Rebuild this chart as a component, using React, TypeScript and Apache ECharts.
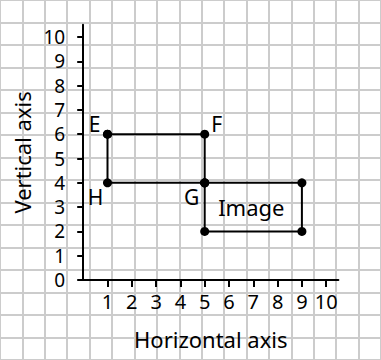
import React, { useEffect, useRef } from "react";
import * as echarts from "echarts";

const xTicks = [1, 2, 3, 4, 5, 6, 7, 8, 9, 10];
const yTicks = [0, 1, 2, 3, 4, 5, 6, 7, 8, 9, 10];
const objectShape = [[1, 6], [5, 6], [5, 4], [1, 4]];
const imageShape = [[5, 4], [9, 4], [9, 2], [5, 2]];
const vertexNames = ["E", "F", "G", "H"];
const imageText = "Image";
const imageTextPos = [7, 3];

const FONT = "Noto Sans";
const UNIT = 24.3;
const X0 = 83.2;
const Y0 = 280;

export default function App() {
  const ref = useRef<HTMLDivElement>(null);
  useEffect(() => {
    if (!ref.current) return;
    const chart = echarts.init(ref.current, undefined, { renderer: "svg" });
    const close = (pts: number[][]) => [...pts, pts[0]];
    const labelOffsets: Record<string, number[]> = {
      E: [-13, -10],
      F: [12, -10],
      G: [-13, 14],
      H: [-12, 14],
    };
    const axisMax = 10.5;
    chart.setOption({
      animation: false,
      backgroundColor: "#ffffff",
      textStyle: { fontFamily: FONT },
      grid: [
        {
          left: X0 - 4 * UNIT,
          top: Y0 - 12 * UNIT,
          width: 17 * UNIT,
          height: 16 * UNIT,
          containLabel: false,
        },
        {
          left: X0,
          top: Y0 - axisMax * UNIT,
          width: axisMax * UNIT,
          height: axisMax * UNIT,
          containLabel: false,
        },
      ],
      xAxis: [
        {
          gridIndex: 0,
          type: "value",
          min: -4,
          max: 13,
          interval: 1,
          axisLine: { show: false },
          axisTick: { show: false },
          axisLabel: { show: false },
          splitLine: { show: true, lineStyle: { color: "#cccccc", width: 2 } },
        },
        {
          gridIndex: 1,
          type: "value",
          min: 0,
          max: axisMax,
          position: "bottom",
          axisLine: { show: true, onZero: false, lineStyle: { color: "#000", width: 2 } },
          axisTick: {
            show: true,
            customValues: xTicks,
            length: 7,
            lineStyle: { color: "#000", width: 2 },
          },
          axisLabel: {
            show: true,
            customValues: xTicks,
            margin: 11,
            color: "#000",
            fontSize: 20,
            fontFamily: FONT,
          },
          splitLine: { show: false },
          name: "Horizontal axis",
          nameLocation: "middle",
          nameGap: 48,
          nameTextStyle: { color: "#000", fontSize: 22, fontFamily: FONT },
        },
      ],
      yAxis: [
        {
          gridIndex: 0,
          type: "value",
          min: -4,
          max: 12,
          interval: 1,
          axisLine: { show: false },
          axisTick: { show: false },
          axisLabel: { show: false },
          splitLine: { show: true, lineStyle: { color: "#cccccc", width: 2 } },
        },
        {
          gridIndex: 1,
          type: "value",
          min: 0,
          max: axisMax,
          position: "left",
          axisLine: { show: true, onZero: false, lineStyle: { color: "#000", width: 2 } },
          axisTick: {
            show: true,
            customValues: yTicks,
            length: 6,
            lineStyle: { color: "#000", width: 2 },
          },
          axisLabel: {
            show: true,
            customValues: yTicks,
            margin: 18,
            color: "#000",
            fontSize: 19,
            lineHeight: 19,
            fontFamily: FONT,
          },
          splitLine: { show: false },
          name: "Vertical axis",
          nameLocation: "middle",
          nameRotate: 90,
          nameGap: 44,
          nameTextStyle: { color: "#000", fontSize: 22, fontFamily: FONT },
        },
      ],
      series: [
        {
          type: "line",
          xAxisIndex: 1,
          yAxisIndex: 1,
          data: close(objectShape),
          symbol: "circle",
          symbolSize: 9,
          showAllSymbol: true,
          itemStyle: { color: "#000", opacity: 1 },
          lineStyle: { color: "#000", width: 2 },
          z: 5,
        },
        {
          type: "line",
          xAxisIndex: 1,
          yAxisIndex: 1,
          data: close(imageShape),
          symbol: "circle",
          symbolSize: 9,
          showAllSymbol: true,
          itemStyle: { color: "#000", opacity: 1 },
          lineStyle: { color: "#000", width: 2 },
          z: 5,
        },
        {
          type: "scatter",
          xAxisIndex: 1,
          yAxisIndex: 1,
          symbolSize: 0,
          itemStyle: { opacity: 1, color: "#000" },
          data: objectShape.map((p, i) => ({
            name: vertexNames[i],
            value: p,
            label: { offset: labelOffsets[vertexNames[i]] },
          })),
          label: {
            show: true,
            position: "inside",
            formatter: "{b}",
            color: "#000",
            opacity: 1,
            fontSize: 21,
            fontFamily: FONT,
          },
          z: 6,
        },
        {
          type: "scatter",
          xAxisIndex: 1,
          yAxisIndex: 1,
          symbolSize: 0,
          itemStyle: { opacity: 1, color: "#000" },
          data: [{ name: imageText, value: imageTextPos }],
          label: {
            show: true,
            position: "inside",
            offset: [-2, 0],
            formatter: "{b}",
            color: "#000",
            opacity: 1,
            fontSize: 22,
            fontFamily: FONT,
          },
          z: 6,
        },
      ],
    });
    return () => chart.dispose();
  }, []);
  return (
    <div
      ref={ref}
      style={{ position: "fixed", left: 0, top: 0, width: 381, height: 360 }}
    />
  );
}
